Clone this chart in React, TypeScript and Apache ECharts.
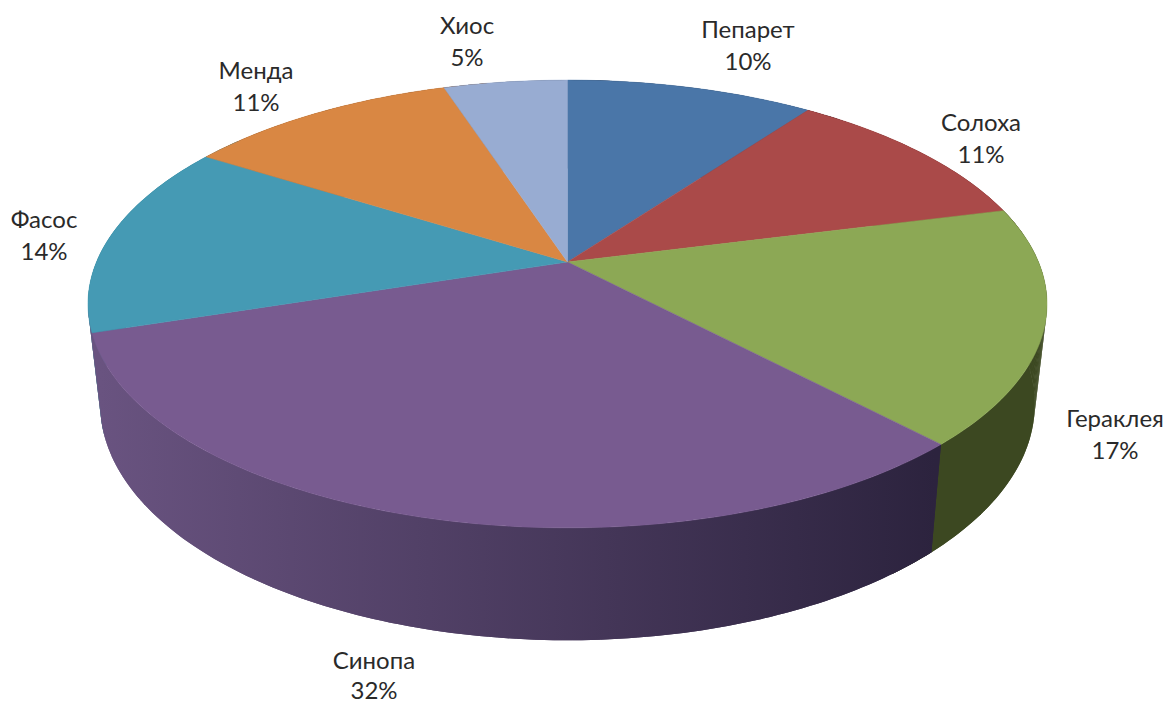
import React, { useEffect, useRef } from "react";
import * as echarts from "echarts";

const categories = ["Пепарет", "Солоха", "Гераклея", "Синопа", "Фасос", "Менда", "Хиос"];
const shares = [10, 11, 17, 32, 14, 11, 5];
const topColors = ["#4a76a8", "#aa4a49", "#8ca855", "#785b90", "#459ab4", "#d98743", "#98acd2"];
const wallLeft = ["#2b4564", "#652b2b", "#3c4821", "#695380", "#2a7d8c", "#824f27", "#5b677e"];
const wallRight = ["#2b4564", "#652b2b", "#3c4821", "#2c233e", "#2a7d8c", "#824f27", "#5b677e"];
// Centre of each label's name line, in page pixels; the percent line sits below it
const labelAnchors = [[748, 28], [981, 121], [1115, 417], [374, 659], [44, 218], [256, 69], [467, 24]];

// Perspective of the disc: a circle seen from above and in front
const TILT = 0.1875;
const TOP = { cx: 567.5, cy: 262, a: 471, b: 216 };
const BOTTOM = { cx: 567.5, cy: 360, a: 459, b: 227.7 };
const LABEL_LINE = 32;
const WALL_OVERLAP = 0.11;

const project = (plane: typeof TOP, theta: number): number[] => {
  const d = 1 + TILT * Math.cos(theta);
  return [plane.cx + (plane.a * Math.sin(theta)) / d, plane.cy - (plane.b * Math.cos(theta)) / d];
};

const total = shares.reduce((s, v) => s + v, 0);

const arcAngles = (from: number, to: number): number[] => {
  const n = Math.max(8, Math.ceil((to - from) * 60));
  const out: number[] = [];
  for (let i = 0; i <= n; i++) out.push(from + ((to - from) * i) / n);
  return out;
};

export default function App() {
  const ref = useRef<HTMLDivElement>(null);
  useEffect(() => {
    const chart = echarts.init(ref.current!, undefined, { renderer: "svg" });
    chart.setOption({
      animation: false,
      backgroundColor: "#ffffff",
      series: [
        {
          type: "custom",
          coordinateSystem: "none",
          data: categories.map((name, i) => ({ name, value: [i, shares[i]] })),
          renderItem: (_p: any, api: any) => {
            const i = api.value(0) as number;
            const v = api.value(1) as number;
            const before = shares.slice(0, i).reduce((s, x) => s + x, 0);
            const from = (before / total) * Math.PI * 2;
            const to = ((before + v) / total) * Math.PI * 2;
            const rimTop = arcAngles(from, to).map((t) => project(TOP, t));
            // The side wall runs slightly on past its end so that the neighbour behind it shows as a sliver only
            const wallAngles = arcAngles(from, to + WALL_OVERLAP);
            const wallTop = wallAngles.map((t) => project(TOP, t));
            const wallBottom = wallAngles.map((t) => project(BOTTOM, t));
            const wallFill = new echarts.graphic.LinearGradient(
              100, 0, 935, 0,
              [
                { offset: 0, color: wallLeft[i] },
                { offset: 1, color: wallRight[i] },
              ],
              true
            );
            const frontness = 3 - Math.cos((from + to) / 2);
            const strips = wallAngles.slice(1).map((_, k) => ({
              type: "polygon",
              z2: frontness,
              shape: { points: [wallTop[k], wallTop[k + 1], wallBottom[k + 1], wallBottom[k]] },
              style: { fill: wallFill },
            }));
            const topFill = topColors[i];
            const pct = Math.round((v / total) * 100);
            const [lx, ly] = labelAnchors[i];
            const textStyle = {
              fontFamily: "Lato, 'Open Sans', sans-serif",
              fontSize: 24,
              fill: "#2a2a2a",
              align: "center",
              verticalAlign: "middle",
            };
            return {
              type: "group",
              children: [
                {
                  type: "polygon",
                  z2: frontness,
                  shape: { points: [...wallTop, ...wallBottom.slice().reverse()] },
                  style: { fill: wallFill },
                },
                ...strips,
                {
                  type: "polygon",
                  z2: 10,
                  shape: { points: [[TOP.cx, TOP.cy], ...rimTop] },
                  style: { fill: topFill, stroke: topFill, lineWidth: 0.5 },
                },
                { type: "text", z2: 20, x: lx, y: ly, style: { ...textStyle, text: categories[i] } },
                { type: "text", z2: 20, x: lx, y: ly + LABEL_LINE - (i === 3 ? 2 : 0), style: { ...textStyle, text: `${pct}%` } },
              ],
            };
          },
        },
      ],
    });
    return () => chart.dispose();
  }, []);
  return <div ref={ref} style={{ position: "absolute", left: 0, top: 0, width: 1170, height: 702 }} />;
}
